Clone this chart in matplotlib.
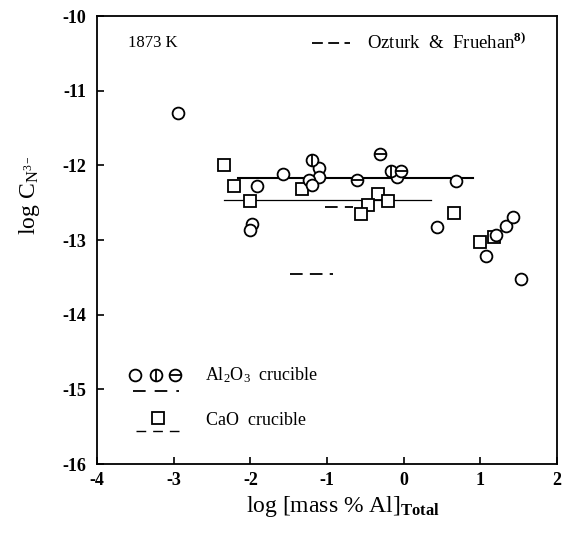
import numpy as np
import matplotlib
matplotlib.use('Agg')
import matplotlib.pyplot as plt

plt.rcParams['font.family'] = ['Liberation Serif', 'DejaVu Serif']
plt.rcParams['mathtext.fontset'] = 'custom'
plt.rcParams['mathtext.rm'] = 'Liberation Serif'
plt.rcParams['mathtext.it'] = 'Liberation Serif:italic'
plt.rcParams['mathtext.bf'] = 'Liberation Serif:bold'

# Al2O3 crucible, plain circles
al_x = [-2.95, -1.91, -1.575, -1.98, -2.0, -1.10, -1.11, -1.24, -1.20, -0.09,
        0.677, 0.44, 1.07, 1.20, 1.34, 1.42, 1.53]
al_y = [-11.30, -12.27, -12.12, -12.79, -12.87, -12.03, -12.16, -12.19, -12.26, -12.16,
        -12.21, -12.83, -13.21, -12.93, -12.81, -12.69, -13.52]
# Al2O3, circles with vertical bar
alv_x = [-1.19, -0.17]
alv_y = [-11.93, -12.07]
# Al2O3, circles with horizontal bar
alh_x = [-0.614, -0.31, -0.036]
alh_y = [-12.20, -11.85, -12.07]

# CaO crucible, squares
cao_x = [-2.34, -2.21, -2.0, -1.32, -0.33, -0.21, -0.47, -0.56, 0.655, 0.99, 1.18]
cao_y = [-12.00, -12.28, -12.47, -12.31, -12.38, -12.47, -12.53, -12.65, -12.63, -13.03, -12.96]

# mean lines
al_line_x = [-2.16, 0.90]
al_line_y = [-12.17, -12.17]
cao_line_x = [-2.35, 0.355]
cao_line_y = [-12.46, -12.46]

# Ozturk & Fruehan (dashed)
oz1_x = [-1.03, -0.66]
oz1_y = [-12.55, -12.55]
oz2_x = [-1.48, -0.92]
oz2_y = [-13.45, -13.45]

fig = plt.figure(figsize=(5.62, 5.39), dpi=100)
ax = fig.add_axes([0.1726, 0.139, 0.8185, 0.831])

ms = 8.5
ax.plot(al_line_x, al_line_y, color='black', lw=1.5)
ax.plot(cao_line_x, cao_line_y, color='black', lw=0.9)
ax.plot(oz1_x, oz1_y, color='black', lw=1.3, dashes=(7, 4))
ax.plot(oz2_x, oz2_y, color='black', lw=1.3, dashes=(7, 4))

ax.plot(cao_x, cao_y, 's', ms=ms, mfc='white', mec='black', mew=1.3)
ax.plot(al_x, al_y, 'o', ms=ms, mfc='white', mec='black', mew=1.3)
ax.plot(alv_x, alv_y, 'o', ms=ms, mfc='white', mec='black', mew=1.3)
ax.plot(alv_x, alv_y, '|', ms=ms, mec='black', mew=1.3)
ax.plot(alh_x, alh_y, 'o', ms=ms, mfc='white', mec='black', mew=1.3)
ax.plot(alh_x, alh_y, '_', ms=ms, mec='black', mew=1.3)

ax.set_xlim(-4, 2)
ax.set_ylim(-16, -10)
ax.set_xticks([-4, -3, -2, -1, 0, 1, 2])
ax.set_yticks([-16, -15, -14, -13, -12, -11, -10])
ax.set_xticklabels(['-4', '-3', '-2', '-1', '0', '1', '2'])
ax.set_yticklabels(['-16', '-15', '-14', '-13', '-12', '-11', '-10'])
ax.tick_params(direction='in', length=5, width=1.2, labelsize=13, top=False, right=False)
ax.tick_params(axis='x', pad=6)
ax.tick_params(axis='y', pad=8)
for lab in ax.get_xticklabels() + ax.get_yticklabels():
    lab.set_fontweight('bold')
for sp in ax.spines.values():
    sp.set_linewidth(1.3)

ax.set_xlabel(r'log [mass % Al]$_{\mathbf{Total}}$', fontsize=17)
ax.xaxis.set_label_coords(0.535, -0.066)
ax.set_ylabel(r'log C$_{\mathrm{N}^{\mathrm{3-}}}$', fontsize=17)
ax.yaxis.set_label_coords(-0.12, 0.6)

# annotations
ax.text(0.067, 0.94, '1873 K', transform=ax.transAxes, fontsize=12, va='center')
ax.plot([0.467, 0.55], [0.94, 0.94], transform=ax.transAxes, color='black', lw=1.3, dashes=(6, 3))
ax.text(0.587, 0.94, r'Ozturk  &  Fruehan$^{\mathbf{8)}}$', transform=ax.transAxes,
        fontsize=13.5, va='center')

# legend (hand made)
for xf in [0.083, 0.128, 0.170]:
    ax.plot([xf], [0.199], 'o', transform=ax.transAxes, ms=ms, mfc='white', mec='black', mew=1.3)
ax.plot([0.128], [0.199], '|', transform=ax.transAxes, ms=ms, mec='black', mew=1.3)
ax.plot([0.170], [0.199], '_', transform=ax.transAxes, ms=ms, mec='black', mew=1.3)
ax.plot([0.078, 0.178], [0.164, 0.164], transform=ax.transAxes, color='black', lw=1.3, dashes=(7, 5))
ax.text(0.235, 0.199, r'Al$_2$O$_3$  crucible', transform=ax.transAxes, fontsize=13, va='center')

ax.plot([0.133], [0.102], 's', transform=ax.transAxes, ms=ms, mfc='white', mec='black', mew=1.3)
ax.plot([0.085, 0.178], [0.074, 0.074], transform=ax.transAxes, color='black', lw=1.0, dashes=(7, 5))
ax.text(0.238, 0.097, 'CaO  crucible', transform=ax.transAxes, fontsize=13, va='center')

fig.savefig('out.png', dpi=100)
